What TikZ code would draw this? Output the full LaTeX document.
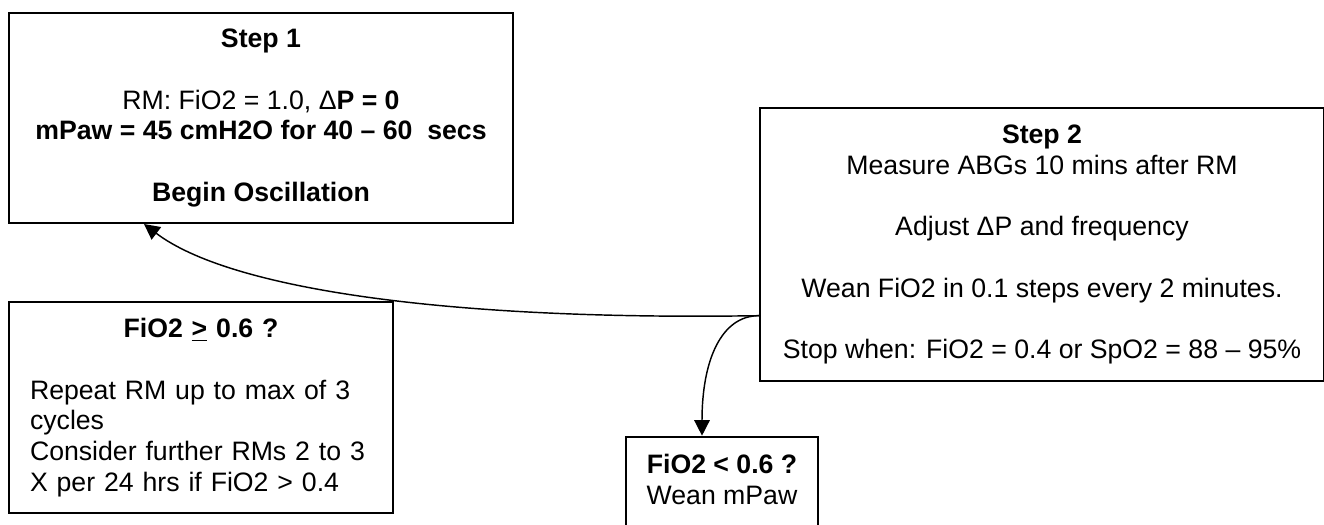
\documentclass[tikz,border=0pt]{standalone}
\usepackage{fontspec}
\setmainfont{Liberation Sans}
\usetikzlibrary{arrows.meta, positioning}

\begin{document}
\begin{tikzpicture}[
    x=0.45pt, y=-0.45pt,
    box/.style={draw, line width=0.9pt, align=center, inner sep=0pt,
                font=\fontsize{12}{13.8}\selectfont},
    arr/.style={-{Triangle[length=7pt, width=7pt]}, line width=0.65pt},
]
\useasboundingbox (0,0) rectangle (1324,524);
\clip (0,0) rectangle (1324,524);

\node[box, anchor=north west, minimum width=226.8pt, minimum height=94.5pt] (step1) at (8,12)
    {\textbf{Step 1}\\[13.8pt]
     RM: FiO2 = 1.0, Δ\textbf{P = 0}\\
     \textbf{mPaw = 45 cmH2O for 40 – 60\ \ secs}\\[13.8pt]
     \textbf{Begin Oscillation}};
\node[box, below right=34.65pt and 0pt of step1.south west, align=left,
      text width=153.9pt, inner xsep=9.45pt, minimum height=95pt] (high)
    {{\centering\textbf{FiO2 \underline{>} 0.6 ?}\par}\vspace{13.8pt}
     Repeat RM up to max of 3\\
     cycles\\
     Consider further RMs 2 to 3\\
     X per 24 hrs if FiO2 > 0.4};
\node[box, below right=42.75pt and 110.25pt of step1.north east,
      minimum width=253.8pt, minimum height=123pt] (step2)
    {\textbf{Step 2}\\
     Measure ABGs 10 mins after RM\\[13.8pt]
     Adjust ΔP and frequency\\[13.8pt]
     Wean FiO2 in 0.1 steps every 2 minutes.\\[13.8pt]
     Stop when: FiO2 = 0.4 or SpO2 = 88 – 95\%};
\node[box, below left=24pt and 60.3pt of step2.south west, anchor=north west,
      minimum width=86.4pt, inner ysep=7.8pt, text depth=40pt] (low)
    {\textbf{FiO2 < 0.6 ?}\\
     Wean mPaw};

\coordinate (fork) at ([yshift=30pt]step2.south west);
\draw[arr] (fork) .. controls +(-307,5) and +(87,66) .. ([xshift=61.2pt]step1.south west);
\draw[arr] (fork) .. controls +(-38,0) and +(0,-75) .. ([xshift=34.65pt]low.north west);
\end{tikzpicture}
\end{document}
